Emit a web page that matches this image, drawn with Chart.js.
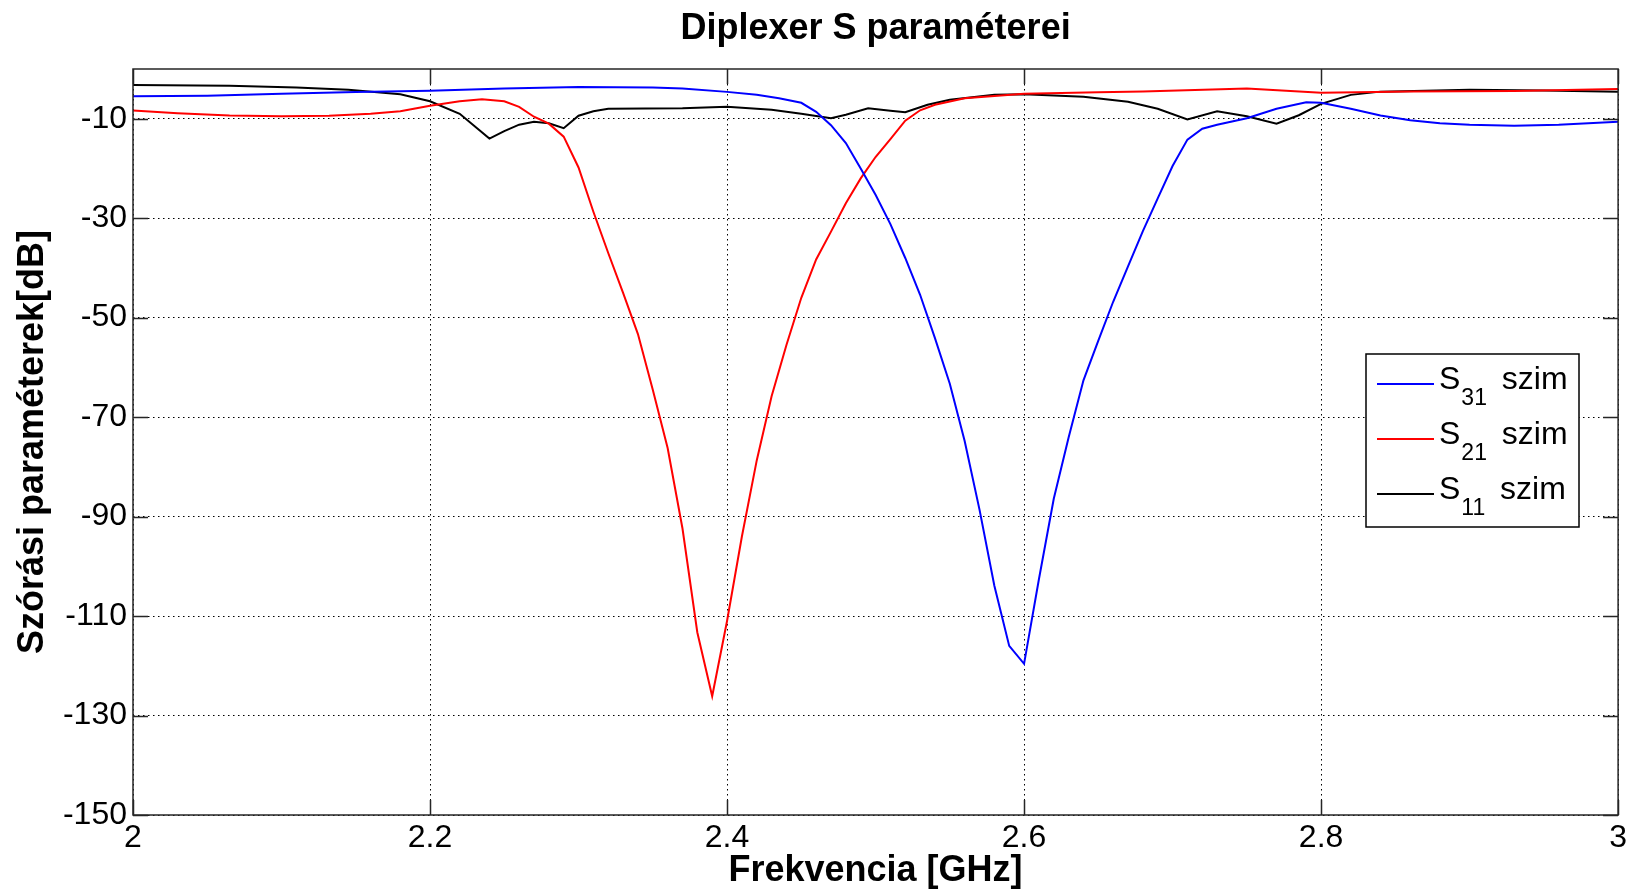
<!DOCTYPE html>
<html>
<head>
<meta charset="utf-8">
<title>Diplexer S paraméterei</title>
<script src="https://cdn.jsdelivr.net/npm/chart.js@4/dist/chart.umd.min.js"></script>
<style>
    body { margin: 0; background: #fff; }
    #wrap { width: 1631px; height: 893px; }
</style>
</head>
<body>
<div id="wrap"><canvas id="chart"></canvas></div>
<script>
// frequency points [GHz] and S parameters [dB]
const freq31 = [2.00, 2.05, 2.10, 2.15, 2.20, 2.25, 2.30, 2.35, 2.37, 2.40, 2.42, 2.435, 2.45, 2.46, 2.47, 2.48, 2.49, 2.50, 2.51, 2.52, 2.53, 2.54, 2.55, 2.56, 2.57, 2.58, 2.59, 2.60, 2.61, 2.62, 2.63, 2.64, 2.65, 2.66, 2.67, 2.68, 2.69, 2.70, 2.71, 2.72, 2.73, 2.75, 2.77, 2.79, 2.80, 2.82, 2.84, 2.86, 2.88, 2.90, 2.93, 2.96, 3.00];
const s31 = [-5.5, -5.4, -5.0, -4.6, -4.35, -3.9, -3.6, -3.7, -3.9, -4.6, -5.2, -5.9, -6.8, -8.6, -11.3, -14.9, -20.0, -25.3, -31.2, -38.0, -45.4, -54.1, -63.3, -74.8, -88.6, -103.9, -116.0, -119.6, -102.6, -86.4, -74.1, -62.6, -54.6, -46.8, -39.7, -32.6, -26.0, -19.5, -14.2, -12.0, -11.2, -9.9, -8.0, -6.7, -6.8, -8.0, -9.35, -10.3, -10.9, -11.2, -11.4, -11.2, -10.6];

const freq21 = [2.00, 2.03, 2.065, 2.10, 2.132, 2.16, 2.18, 2.20, 2.22, 2.235, 2.25, 2.26, 2.27, 2.28, 2.29, 2.30, 2.31, 2.32, 2.33, 2.34, 2.35, 2.36, 2.37, 2.38, 2.39, 2.40, 2.41, 2.42, 2.43, 2.44, 2.45, 2.46, 2.47, 2.48, 2.49, 2.50, 2.51, 2.52, 2.53, 2.54, 2.56, 2.60, 2.65, 2.68, 2.75, 2.80, 2.86, 2.93, 3.00];
const s21 = [-8.35, -8.9, -9.35, -9.5, -9.4, -9.0, -8.5, -7.4, -6.5, -6.1, -6.5, -7.6, -9.6, -11.0, -13.6, -19.8, -28.7, -37.0, -45.0, -53.3, -64.5, -76.2, -92.4, -113.3, -126.1, -111.0, -94.0, -78.7, -65.8, -55.5, -46.0, -38.3, -32.7, -27.0, -22.0, -17.7, -14.1, -10.4, -8.3, -7.2, -5.9, -5.0, -4.7, -4.5, -3.9, -4.8, -4.5, -4.4, -4.0];

const freq11 = [2.00, 2.065, 2.11, 2.145, 2.18, 2.20, 2.22, 2.24, 2.25, 2.26, 2.27, 2.28, 2.29, 2.30, 2.31, 2.32, 2.37, 2.40, 2.43, 2.45, 2.47, 2.48, 2.495, 2.51, 2.52, 2.535, 2.55, 2.58, 2.60, 2.64, 2.67, 2.69, 2.71, 2.73, 2.75, 2.77, 2.785, 2.80, 2.82, 2.84, 2.90, 2.95, 3.00];
const s11 = [-3.2, -3.35, -3.7, -4.15, -5.1, -6.5, -9.0, -14.0, -12.5, -11.2, -10.6, -10.9, -11.9, -9.4, -8.5, -8.0, -7.9, -7.6, -8.2, -9.0, -9.9, -9.2, -7.9, -8.4, -8.7, -7.2, -6.2, -5.2, -5.1, -5.6, -6.6, -8.0, -10.15, -8.5, -9.5, -11.0, -9.3, -7.0, -5.2, -4.55, -4.15, -4.3, -4.55];

const seriesLabels = ['S_{31} szim', 'S_{21} szim', 'S_{11} szim'];
const xTicks = [2, 2.2, 2.4, 2.6, 2.8, 3];
const yTicks = [-150, -130, -110, -90, -70, -50, -30, -10];
const chartTitle = 'Diplexer S paraméterei';

const chartNode = document.querySelector('#chart');
const FONT = "'Liberation Sans', Arial, Helvetica, sans-serif";
Chart.defaults.font.family = FONT;
Chart.defaults.color = '#000';

const toPoints = (xs, ys) => xs.map((x, i) => ({ x, y: ys[i] }));

// title centred over the plot area, not the whole canvas
const axesTitle = {
    id: 'axesTitle',
    afterDraw(chart, args, opts) {
        const { ctx, chartArea: a } = chart;
        ctx.save();
        ctx.fillStyle = '#000';
        ctx.font = 'bold 36px ' + FONT;
        ctx.textAlign = 'center';
        ctx.textBaseline = 'middle';
        ctx.fillText(opts.text, (a.left + a.right) / 2, opts.y);
        ctx.restore();
    }
};

// inward tick marks on all four sides plus the axes box
const axesBox = {
    id: 'axesBox',
    afterDatasetsDraw(chart) {
        const { ctx, chartArea: a, scales } = chart;
        const len = 15;
        ctx.save();
        ctx.strokeStyle = '#262626';
        ctx.lineWidth = 1.5;
        ctx.beginPath();
        for (const t of scales.x.ticks) {
            const px = Math.round(scales.x.getPixelForValue(t.value)) + 0.5;
            ctx.moveTo(px, a.bottom); ctx.lineTo(px, a.bottom - len);
            ctx.moveTo(px, a.top); ctx.lineTo(px, a.top + len);
        }
        for (const t of scales.y.ticks) {
            const py = Math.round(scales.y.getPixelForValue(t.value)) + 0.5;
            ctx.moveTo(a.left, py); ctx.lineTo(a.left + len, py);
            ctx.moveTo(a.right, py); ctx.lineTo(a.right - len, py);
        }
        ctx.stroke();
        ctx.strokeRect(a.left, a.top, a.right - a.left, a.bottom - a.top);
        ctx.restore();
    }
};

// legend box with subscripted labels
const subLegend = {
    id: 'subLegend',
    afterDraw(chart, args, opts) {
        const { ctx } = chart;
        const { left, top, width, height, rowStart, rowStep } = opts;
        ctx.save();
        ctx.fillStyle = '#fff';
        ctx.fillRect(left, top, width, height);
        ctx.strokeStyle = '#000';
        ctx.lineWidth = 1.5;
        ctx.strokeRect(left, top, width, height);
        chart.data.datasets.forEach((ds, i) => {
            const y = rowStart + i * rowStep;
            ctx.strokeStyle = ds.borderColor;
            ctx.lineWidth = 2;
            ctx.beginPath();
            ctx.moveTo(left + 11, y);
            ctx.lineTo(left + 68, y);
            ctx.stroke();

            const m = ds.label.match(/^(.*)_\{(.*)\}(.*)$/);
            let x = left + 73;
            ctx.fillStyle = '#000';
            ctx.textBaseline = 'alphabetic';
            ctx.font = '32px ' + FONT;
            ctx.fillText(m[1], x, y + 5);
            x += ctx.measureText(m[1]).width + 1;
            ctx.font = '23px ' + FONT;
            ctx.fillText(m[2], x, y + 21);
            x += ctx.measureText(m[2]).width + 6;
            ctx.font = '32px ' + FONT;
            ctx.fillText(m[3], x, y + 5);
        });
        ctx.restore();
    }
};

const gridStyle = { color: '#000', lineWidth: 1, drawTicks: false };

const chart = new Chart(chartNode, {
    type: 'line',
    data: {
        datasets: [
            { label: seriesLabels[0], data: toPoints(freq31, s31), borderColor: '#0000ff' },
            { label: seriesLabels[1], data: toPoints(freq21, s21), borderColor: '#ff0000' },
            { label: seriesLabels[2], data: toPoints(freq11, s11), borderColor: '#000000' }
        ]
    },
    options: {
        responsive: true,
        maintainAspectRatio: false,
        animation: false,
        layout: { padding: { left: 0, right: 10, top: 69, bottom: 0 } },
        elements: {
            line: { borderWidth: 2, tension: 0 },
            point: { radius: 0 }
        },
        scales: {
            x: {
                type: 'linear',
                min: 2, max: 3,
                afterBuildTicks: s => { s.ticks = xTicks.map(v => ({ value: v })); },
                afterFit: s => { s.height = 78; },
                grid: gridStyle,
                border: { display: false, dash: [1.5, 3.5] },
                ticks: {
                    padding: 4,
                    maxRotation: 0,
                    font: { size: 32 },
                    callback: v => String(+v.toFixed(1))
                },
                title: {
                    display: true,
                    text: 'Frekvencia [GHz]',
                    font: { size: 36, weight: 'bold' },
                    padding: { top: 0, bottom: 0 }
                }
            },
            y: {
                min: -150, max: 0,
                afterBuildTicks: s => { s.ticks = yTicks.map(v => ({ value: v })); },
                afterFit: s => { s.width = 133; },
                grid: gridStyle,
                border: { display: false, dash: [1.5, 3.5] },
                ticks: {
                    padding: 6,
                    font: { size: 32 },
                    callback: v => String(v)
                },
                title: {
                    display: true,
                    text: 'Szórási paraméterek[dB]',
                    font: { size: 36, weight: 'bold' },
                    padding: { top: 11, bottom: 0 }
                }
            }
        },
        plugins: {
            legend: { display: false },
            tooltip: { enabled: false },
            title: { display: false },
            axesTitle: { text: chartTitle, y: 29 },
            subLegend: { left: 1366, top: 354, width: 213, height: 173, rowStart: 384, rowStep: 55 }
        }
    },
    plugins: [axesTitle, axesBox, subLegend]
});
</script>
</body>
</html>
